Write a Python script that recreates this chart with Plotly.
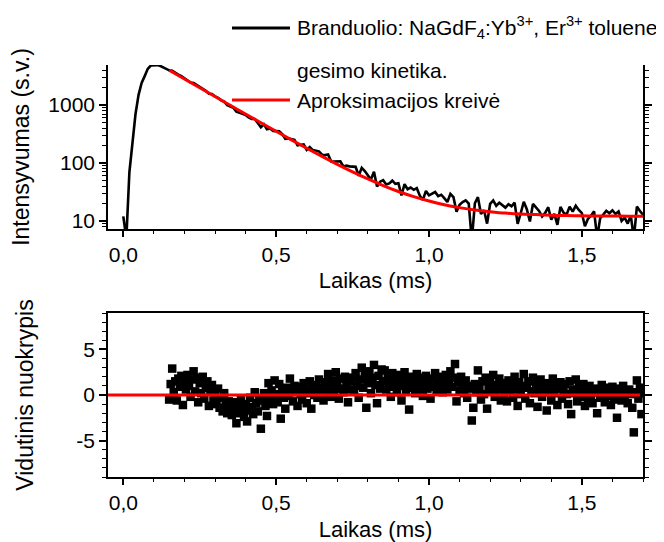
import numpy as np
import plotly.graph_objects as go

# ---------------- data ----------------
T_START = 0.0          # ms, first sample of the decay trace
T_STEP = 0.01          # ms, sampling step of the decay trace
RES_START = 0.15       # ms, first residual point
RES_STEP = 0.005       # ms, residual sampling step

# measured decay (counts), 0.00 ... 1.70 ms
decay_rise = [12, 5, 70, 250, 700, 1500, 2400, 3150, 4200, 4800, 4900, 4880, 4750, 4500, 4200]
decay_tail = [
    3968, 3906, 3564, 3344, 3136, 2891, 2738, 2438, 2407, 2216,
    2043, 1937, 1759, 1561, 1544, 1411, 1330, 1207, 1142, 994,
    941, 897, 769, 745, 704, 672, 609, 576, 575, 489,
    413, 466, 383, 395, 357, 354, 351, 314, 262, 266,
    256, 250, 202, 206, 210, 168, 188, 167, 161, 159,
    139, 137, 140, 106, 106, 106, 106.5, 86.9, 89.9, 87.6,
    86.4, 85.9, 60.3, 82.4, 72.6, 62.6, 51.7, 70.5, 39.2, 47.6,
    50.5, 42.6, 44.4, 49.6, 43.7, 44.8, 27.5, 43.1, 35.3, 37.7,
    34.5, 36.8, 27.3, 23.1, 32.9, 27.7, 29.7, 31.6, 26.9, 28.4,
    24.8, 21.2, 29.4, 25.7, 14.4, 19.1, 21.2, 22.7, 20.0, 4.6,
    20.2, 25.8, 13.2, 15.3, 9.0, 19.8, 22.7, 18.3, 20.7, 18.7,
    17.0, 19.5, 17.9, 20.7, 8.9, 13.6, 21.4, 16.0, 9.8, 19.7,
    16.8, 14.9, 12.0, 13.8, 17.3, 10.5, 13.3, 8.6, 17.5, 13.9,
    12.8, 17.7, 14.5, 18.3, 15.5, 13.7, 8.1, 10.9, 12.3, 14.7,
    5.2, 11.2, 12.9, 15.0, 13.6, 15.3, 13.2, 14.6, 10.0, 11.4,
    9.0, 12.5, 5.0, 17.7, 14.9, 12.8,
]
decay = decay_rise + decay_tail

# fitted curve (counts)
fit_t = [0.15, 0.20, 0.25, 0.30, 0.35, 0.40, 0.45, 0.50, 0.55, 0.60, 0.65,
         0.70, 0.75, 0.80, 0.85, 0.90, 0.95, 1.00, 1.05, 1.10, 1.15, 1.20,
         1.25, 1.30, 1.35, 1.40, 1.45, 1.50, 1.55, 1.60, 1.65, 1.70]
fit_y = [4000, 2817, 1985, 1400, 988, 698, 495, 352, 251, 180, 130,
         95, 70.4, 53.1, 40.9, 32.3, 26.3, 22.1, 19.1, 17.0, 15.5, 14.5,
         13.7, 13.2, 12.9, 12.6, 12.4, 12.3, 12.2, 12.2, 12.1, 12.1]

# weighted residuals, 0.150 ... 1.700 ms
residuals = [
    -0.5, 1.2, 2.9, 0.3, 1.5, -0.6, 1.8, 0.9, 2.1, -1.1, 1.4, 0.6, 2.2, 1.0, -0.2, 1.7, 2.6, 0.4, 1.9, -0.8,
    1.3, 0.2, 2.0, -0.4, 0.8, 1.5, -1.2, 0.5, 1.1, -0.6, 0.3, -1.0, 0.7, -1.4, -0.3, -1.8, 0.2, -1.1, -2.0, -0.7,
    -1.5, -2.2, -0.8, -1.9, -3.1, -1.2, -2.0, -0.5, -1.6, -2.4, -1.0, -2.9, -1.7, -0.3, -1.3, -2.1, 0.3, -0.9, -1.8, -0.4,
    -3.7, -0.6, 0.2, -1.2, -2.3, 1.3, -0.4, 0.5, -1.0, 1.6, 0.1, -0.8, 1.2, -2.6, 0.4, -0.3, -1.5, 0.8, -0.1, 1.8,
    0.3, -0.7, 1.0, 0.4, -1.2, 0.9, 0.1, -0.5, 1.3, 0.6, -0.9, 0.2, 1.5, -1.5, 0.7, 0.0, 1.1, -0.3, 1.7, 0.5,
    0.8, -0.6, 1.4, 0.2, 2.3, 0.9, -0.2, 1.6, 0.5, 2.5, 1.1, -0.4, 1.8, 0.7, 0.3, 2.0, 1.2, -0.8, 1.5, 0.6,
    1.9, 0.4, 2.4, 1.0, -0.3, 1.7, 3.0, 0.8, 2.2, -1.4, 1.3, 2.6, 0.2, 1.9, 3.3, 1.1, -0.9, 2.1, 0.7, 2.8,
    1.5, 2.7, 0.6, 2.0, 1.2, -0.2, 2.4, 0.9, 1.7, 0.3, 2.2, 1.0, -0.6, 1.8, 2.5, 0.5, 1.3, -1.6, 2.0, 0.8,
    1.6, 0.2, 2.3, 1.1, 0.6, 1.9, -0.1, 1.4, 2.1, 0.7, 1.2, -0.4, 1.8, 0.9, 2.4, 0.4, 1.5, 1.0, 2.0, 0.3,
    1.3, 2.2, 0.6, 1.7, 2.6, 0.9, 1.9, 3.4, -0.7, 1.4, 0.5, 2.0, 1.1, 0.2, 1.6, -0.3, 1.0, 0.7, -2.8, -1.4,
    1.2, 0.3, 2.7, 0.8, -0.5, 1.5, 0.1, 1.9, -1.5, 0.9, 1.4, 0.4, 2.2, -0.2, 1.1, 0.6, 1.8, -0.6, 1.3, 0.2,
    0.9, -0.7, 1.6, 0.3, 1.2, -0.3, 2.0, 0.6, -1.2, 1.4, 0.1, 1.0, 2.3, -0.4, 0.8, 1.5, -0.9, 0.4, 1.9, 0.2,
    1.1, -1.3, 0.6, 1.7, -0.2, 0.9, 0.3, -1.7, 1.3, 0.5, -0.6, 1.8, 0.2, 1.0, -1.1, 0.7, 1.4, -0.4, 0.4, 1.2,
    0.1, -1.0, 1.5, -2.1, 0.6, 0.2, 1.7, -0.7, 0.9, -0.2, 0.4, 1.2, -1.2, 0.5, -0.4, 1.0, 0.0, -0.9, 0.7, 0.3,
    -2.0, 0.6, -0.3, 1.1, 0.2, -0.8, 0.8, -0.1, 0.4, -1.1, 0.9, -0.5, 0.3, -2.5, 0.7, 0.0, -0.6, 1.0, -0.2, 0.5,
    -0.9, 0.6, 0.1, -1.4, -4.1, 0.3, 1.6, -0.4, 0.8, -2.1, 0.2,
]
zero_x = [-0.05, 1.69]
zero_y = [0, 0]

x_ticks = [0.0, 0.5, 1.0, 1.5]
y_top_ticks = [10, 100, 1000]
y_top_labels = ["10", "100", "1000"]
y_top_minor = [8, 9, 20, 30, 40, 50, 60, 70, 80, 90, 200, 300, 400, 500, 600, 700, 800, 900,
               2000, 3000, 4000]
y_bot_ticks = [-5, 0, 5]
y_bot_labels = ["-5", "0", "5"]

label_black = "Branduolio: NaGdF<sub>4</sub>:Yb<sup>3+</sup>, Er<sup>3+</sup> toluene"
label_black2 = "gesimo kinetika."
label_red = "Aproksimacijos kreivė"

t_decay = np.round(T_START + T_STEP * np.arange(len(decay)), 4)
t_res = np.round(RES_START + RES_STEP * np.arange(len(residuals)), 4)

# ---------------- figure ----------------
OFF = 8                       # page body margin of the html page
W, H = 664 - OFF, 542 - OFF
ML, MR, MT, MB = 108 - OFF, 21, 65 - OFF, 65
FONT = "Arial, 'Liberation Sans', sans-serif"

fig = go.Figure()
fig.add_trace(go.Scatter(x=t_decay, y=decay, mode="lines", xaxis="x2", yaxis="y2",
                         line=dict(color="black", width=2.6), name="Branduolio", showlegend=False))
fig.add_trace(go.Scatter(x=fit_t, y=fit_y, mode="lines", xaxis="x2", yaxis="y2",
                         line=dict(color="#ff0000", width=3, shape="spline"),
                         name=label_red, showlegend=False))
fig.add_trace(go.Scatter(x=t_res, y=residuals, mode="markers", xaxis="x", yaxis="y",
                         marker=dict(symbol="square", size=8.5, color="black"),
                         name="Liekanos", showlegend=False))
fig.add_trace(go.Scatter(x=zero_x, y=zero_y, mode="lines", xaxis="x", yaxis="y",
                         line=dict(color="#ff0000", width=3), showlegend=False))

# helpers: page pixel -> paper fraction
def px_x(p):
    return (p - OFF - ML) / (W - ML - MR)

def px_y(p):
    return (H - MB - (p - OFF)) / (H - MT - MB)

axis_common = dict(showline=True, linecolor="black", linewidth=1.5, showgrid=False,
                   zeroline=False, ticks="outside", tickcolor="black", tickwidth=1.5,
                   automargin=False, tickfont=dict(size=21, color="black"))

xcommon = dict(axis_common, range=[-0.05, 1.7], tickvals=x_ticks, tickformat=".1f",
               ticklen=6,
               minor=dict(ticks="outside", ticklen=3, dtick=0.1, tick0=0, tickcolor="black",
                          tickwidth=1.2))

fig.update_layout(
    width=W, height=H,
    margin=dict(l=ML, r=MR, t=MT, b=MB, autoexpand=False),
    paper_bgcolor="white", plot_bgcolor="white",
    separators=", ",
    font=dict(family=FONT, size=21, color="black"),
    xaxis=dict(xcommon, domain=[0, 1], anchor="y", mirror=True,
               title=dict(text="Laikas (ms)", font=dict(size=22), standoff=9)),
    xaxis2=dict(xcommon, domain=[0, 1], anchor="y2", mirror=False,
                title=dict(text="Laikas (ms)", font=dict(size=22), standoff=8)),
    yaxis=dict(axis_common, domain=[0, px_y(313)], anchor="x", range=[-9, 9],
               tickvals=y_bot_ticks, ticktext=y_bot_labels, ticklen=7, mirror="ticks",
               minor=dict(ticks="outside", ticklen=4, dtick=1, tick0=0, tickcolor="black",
                          tickwidth=1.2),
               title=dict(text="Vidutinis nuokrypis", font=dict(size=23), standoff=36)),
    yaxis2=dict(axis_common, domain=[px_y(229), 1], anchor="x2", type="log",
                range=[0.862, 3.69], tickvals=y_top_ticks, ticktext=y_top_labels,
                ticklen=7, mirror="ticks",
                minor=dict(ticks="outside", ticklen=4, tickvals=y_top_minor,
                           tickcolor="black", tickwidth=1.2),
                title=dict(text="Intensyvumas (s.v.)", font=dict(size=23), standoff=22)),
)

# legend (drawn as sample lines + text)
fig.add_shape(type="line", xref="paper", yref="paper", x0=px_x(232), x1=px_x(290),
              y0=px_y(28), y1=px_y(28), line=dict(color="black", width=3))
fig.add_shape(type="line", xref="paper", yref="paper", x0=px_x(232), x1=px_x(290),
              y0=px_y(100), y1=px_y(100), line=dict(color="#ff0000", width=3))
for txt, yy in [(label_black, 27), (label_black2, 70), (label_red, 101)]:
    fig.add_annotation(text=txt, xref="paper", yref="paper", x=px_x(295), y=px_y(yy),
                       xanchor="left", yanchor="middle", showarrow=False,
                       font=dict(size=21, color="black"))

fig.write_html("out.html")
